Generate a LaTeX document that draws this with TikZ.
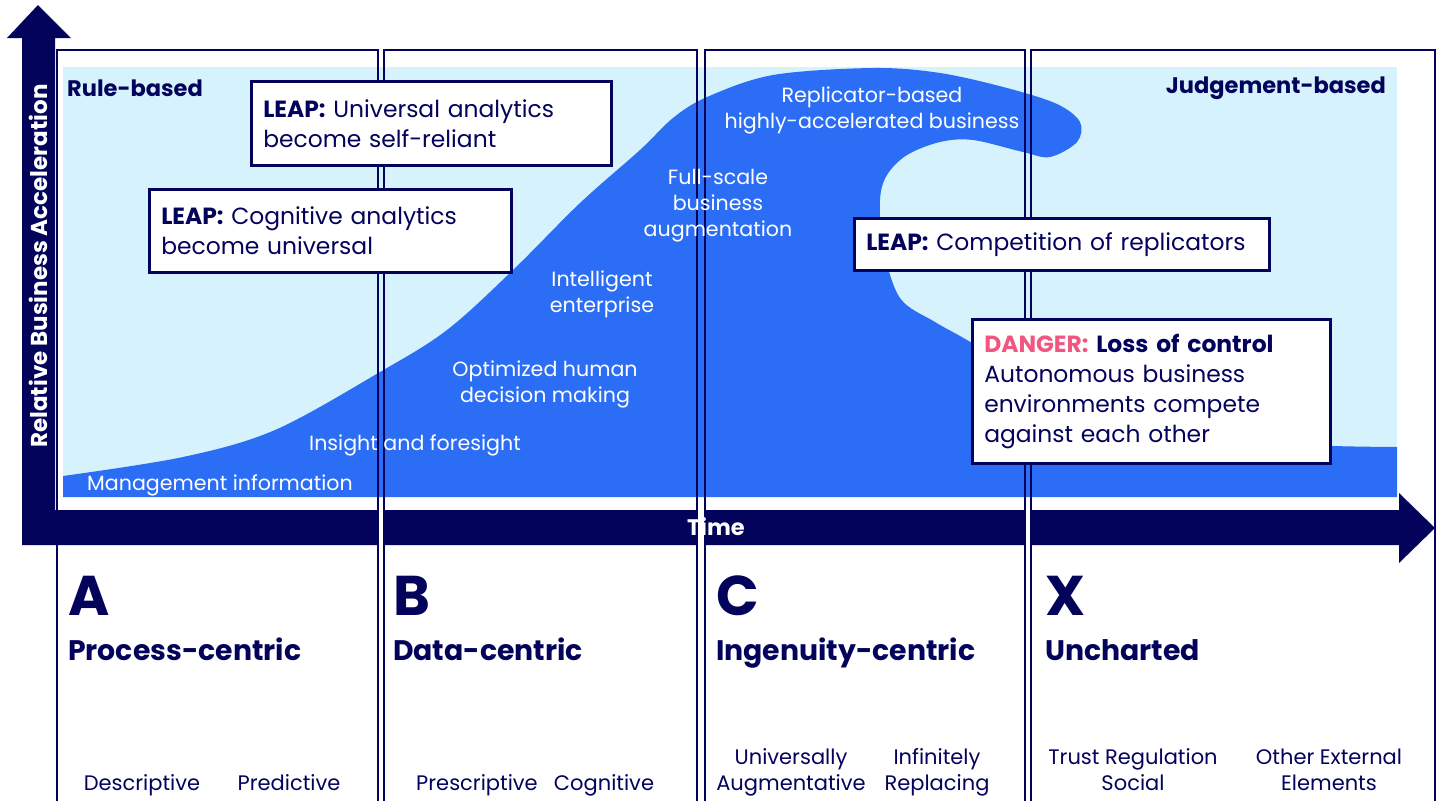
\documentclass[tikz,border=0pt]{standalone}
\usepackage{fontspec}
\setmainfont{Poppins}
\definecolor{acc_navy}{RGB}{3,3,92}
\definecolor{wave_blue}{RGB}{43,110,245}
\definecolor{sky_blue}{RGB}{214,243,253}
\definecolor{danger_pink}{RGB}{240,86,127}

\begin{document}
\begin{tikzpicture}[x=1pt,y=-1pt]
    % Define styles
    \tikzset{
        colframe/.style={draw=acc_navy,line width=2.5pt},
        leapbox/.style={draw=acc_navy,fill=white,line width=2.5pt,anchor=north west,align=left,inner xsep=12pt,text=acc_navy,font=\fontsize{23.4}{30}\selectfont},
        wavetext/.style={text=white,align=center,font=\fontsize{20.6}{26}\selectfont},
        subtext/.style={text=acc_navy,align=center,anchor=base,font=\fontsize{21}{26}\selectfont},
        bigletter/.style={text=acc_navy,anchor=base west,inner sep=0pt,font=\fontsize{56}{60}\selectfont\bfseries},
        coltitle/.style={text=acc_navy,anchor=base west,inner sep=0pt,font=\fontsize{28.3}{34}\selectfont\bfseries},
        sidelabel/.style={text=acc_navy,inner sep=0pt,font=\fontsize{22.5}{26}\selectfont\bfseries}
    }
    \useasboundingbox (0,0) rectangle (1440,801);

    \fill[sky_blue] (63,67) rectangle (1397,497); % Draw the sky

    % Draw the wave
    \fill[wave_blue] (63,497) -- plot[smooth,tension=0.55] coordinates {
        (63,476) (183,457) (275,430) (380,372) (447,330) (513,270) (580,203)
        (640,150) (673,118) (707,97) (773,75) (873,68) (940,73) (1007,88)
        (1057,104) (1080,122) (1077,142) (1050,157) (1023,152) (973,140)
        (940,142) (907,155) (887,175) (880,200) (883,247) (900,298) (935,322)
        (972,343) (1050,392) (1150,428) (1250,442) (1334,446) (1397,447)}
        -- (1397,497) -- cycle;

    % Draw both axes as one block arrow
    \fill[acc_navy] (22,545) -- (22,38) -- (7,38) -- (38,5) -- (71,38) -- (55,38)
        -- (55,510) -- (1399,510) -- (1399,493) -- (1435,528) -- (1399,563)
        -- (1399,545) -- cycle;
    \foreach \ga/\gb in {378/384, 697/705, 1025/1031}
        \fill[white] (\ga,509) rectangle (\gb,546);

    % Draw columns and their titles
    \foreach \xl/\xr/\xt/\lt/\ttl in {57/378/68/A/Process-centric, 384/697/393/B/Data-centric,
        705/1025/716/C/Ingenuity-centric, 1031/1435/1045/X/Uncharted}
    {
        \draw[colframe] (\xl,801) |- (\xr,50) -- (\xr,801);
        \node[bigletter] (letter\lt) at (\xt,615) {\lt};
        \node[coltitle] (title\lt) at (\xt,660) {\ttl};
    }

    % Stages along the wave
    \node[wavetext] (mgmt) at (220,485) {Management information};
    \node[wavetext] (insight) at (415,445) {Insight and foresight};
    \node[wavetext] (optim) at (545,384) {Optimized human\\decision making};
    \node[wavetext] (intel) at (602,294) {Intelligent\\enterprise};
    \node[wavetext] (fullscale) at (718,206) {Full-scale\\business\\augmentation};
    \node[wavetext] (replic) at (872,110) {Replicator-based\\highly-accelerated business};

    % Leaps
    \node[leapbox,minimum width=360,minimum height=84,text width=336] (leapuniv) at (250,80)
        {\textbf{LEAP:} Universal analytics\\become self-reliant};
    \node[leapbox,minimum width=362,minimum height=83,text width=338] (leapcogn) at (148,188)
        {\textbf{LEAP:} Cognitive analytics\\become universal};
    \node[leapbox,minimum width=415,minimum height=52,text width=391] (leapcomp) at (853,217)
        {\textbf{LEAP:} Competition of replicators};
    \node[leapbox,minimum width=358,minimum height=144,text width=334] (danger) at (971,318)
        {{\color{danger_pink}\bfseries DANGER:} \textbf{Loss of control}\\Autonomous business\\environments compete\\against each other};

    \node[sidelabel,anchor=west] (rule) at (67,88) {Rule-based};
    \node[sidelabel,anchor=east] (judge) at (1386,88) {Judgement-based};

    % Axis labels
    \node[sidelabel,text=white] (time) at (716,527) {Time};
    \node[sidelabel,text=white,rotate=90,font=\fontsize{23}{26}\selectfont\bfseries] (accel) at (38,266) {Relative Business Acceleration};

    % Items at the foot of each column
    \foreach \cx/\txt in {142/Descriptive, 289/Predictive, 477/Prescriptive, 604/Cognitive,
        791/{Universally\\Augmentative}, 937/{Infinitely\\Replacing},
        1133/{Trust Regulation\\Social}, 1329/{Other External\\Elements}}
        \node[subtext] at (\cx,790) {\txt};
\end{tikzpicture}
\end{document}
